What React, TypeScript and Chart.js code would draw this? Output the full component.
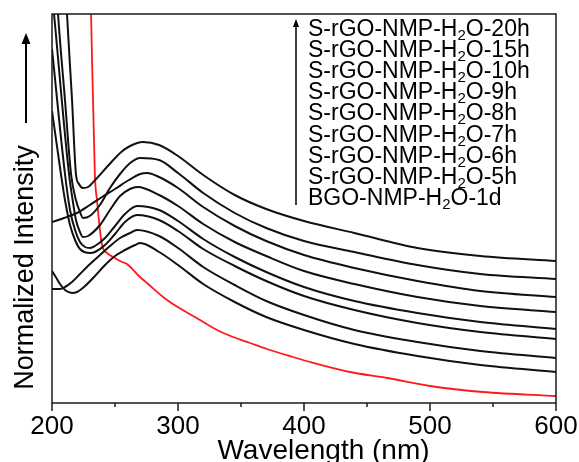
import { useEffect, useRef } from 'react';
import { Chart, registerables } from 'chart.js';

Chart.register(...registerables);

// Wavelength (nm) vs normalized intensity (a.u.) readings, [wavelength, intensity]
const s20h: [number, number][] = [
  [210.7, 423], [211.9, 389], [215.9, 303], [219.0, 229], [221.4, 219], [224.6, 215], [228.6, 216],
  [235, 224], [245, 238], [255, 251], [262, 257], [272, 261], [285, 258], [300, 247], [320, 228],
  [345, 208], [370, 194], [400, 182], [440, 170], [490, 155], [540, 147], [600, 142],
];
const s15h: [number, number][] = [
  [203.5, 418], [204.8, 389], [210.3, 303], [215.1, 229], [219, 203], [222.2, 191], [224.6, 185],
  [230, 187], [238, 198], [246, 215], [254, 229], [262, 240], [270, 245], [285, 243], [300, 230],
  [320, 210], [345, 190], [370, 175], [400, 162], [440, 151], [490, 138], [540, 129], [600, 124],
];
const s10h: [number, number][] = [
  [200, 181], [209.5, 185], [219.8, 190], [230, 198], [239.7, 206], [250, 214], [261, 223],
  [270, 229], [275.4, 230], [285, 226], [300, 215], [320, 196], [345, 177], [370, 162], [400, 148],
  [440, 135], [490, 122], [540, 112], [600, 106],
];
const s9h: [number, number][] = [
  [200, 410], [201.6, 389], [213.5, 229], [217, 198], [219, 183], [222.2, 171], [224.6, 166],
  [228.6, 167], [238.1, 178], [246, 193], [254, 207], [261.9, 214], [268, 216], [285, 208],
  [300, 197], [320, 179], [345, 161], [370, 147], [400, 132], [440, 119], [490, 106], [540, 97], [600, 91],
];
const s8h: [number, number][] = [
  [200, 354], [210.3, 229], [214.3, 193], [218.3, 173], [222.2, 161], [226.2, 156], [230.2, 155],
  [234.1, 157], [242.1, 165], [250, 177], [257.9, 189], [267.5, 197], [285, 193], [300, 182],
  [320, 164], [345, 146], [370, 131], [400, 116], [440, 102], [490, 90], [540, 81], [600, 74],
];
const s7h: [number, number][] = [
  [200, 292], [207.1, 229], [210.3, 203], [214.3, 178], [218.3, 163], [222.2, 154], [230.2, 150],
  [234.1, 151], [242.1, 158], [250, 169], [257.9, 181], [267.5, 188], [285, 183], [300, 172],
  [320, 154], [345, 137], [370, 122], [400, 107], [440, 93], [490, 80], [540, 71], [600, 64],
];
const s6h: [number, number][] = [
  [200, 114], [206.3, 114], [210.3, 116], [215.9, 121], [222.2, 129], [230.2, 139], [238.1, 148],
  [246, 157], [254, 165], [261.9, 170], [267.5, 173], [285, 167], [300, 155], [320, 136],
  [345, 118], [370, 102], [400, 88], [440, 73], [490, 61], [540, 52], [600, 45],
];
const s5h: [number, number][] = [
  [200, 132], [203, 126], [206.3, 119], [210.3, 113], [215.9, 110], [219.8, 111], [226.2, 117],
  [234.1, 127], [242.1, 138], [250, 147], [257.9, 153], [265.9, 158], [270, 160], [285, 151],
  [300, 138], [320, 119], [345, 101], [370, 86], [400, 73], [440, 59], [490, 47], [540, 38], [600, 31],
];
const bgo1d: [number, number][] = [
  [230.3, 430], [231, 389], [234, 229], [235.7, 203], [239.7, 158], [243.7, 150], [248.4, 146],
  [255.6, 141], [259.5, 139], [269.8, 126], [275.4, 120], [291.3, 103], [317.5, 83], [331, 73],
  [343.7, 66], [357.1, 60], [370.6, 54], [391.3, 46], [404.8, 41], [436.5, 31], [465.9, 25],
  [500, 17], [542, 11], [600, 7],
];

const seriesData = [s20h, s15h, s10h, s9h, s8h, s7h, s6h, s5h, bgo1d];
const legendLabels = [
  'S-rGO-NMP-H2O-20h', 'S-rGO-NMP-H2O-15h', 'S-rGO-NMP-H2O-10h', 'S-rGO-NMP-H2O-9h',
  'S-rGO-NMP-H2O-8h', 'S-rGO-NMP-H2O-7h', 'S-rGO-NMP-H2O-6h', 'S-rGO-NMP-H2O-5h', 'BGO-NMP-H2O-1d',
];
const seriesColors = ['#111', '#111', '#111', '#111', '#111', '#111', '#111', '#111', '#ff1a1a'];
const xMin = 200;
const xMax = 600;
const xMajorStep = 100;
const xMinorStep = 50;
const yMax = 389;
const xTitle = 'Wavelength (nm)';
const yTitle = 'Normalized Intensity';

const FONT = 'Liberation Sans, Arial, sans-serif';

const decorPlugin = {
  id: 'decor',
  afterDraw(chart: any) {
    const { ctx, chartArea } = chart;
    const { left, right, top, bottom } = chartArea;
    const xs = chart.scales.x;
    ctx.save();
    // frame
    ctx.strokeStyle = '#1a1a1a';
    ctx.lineWidth = 1.5;
    ctx.strokeRect(left, top, right - left, bottom - top);
    // ticks
    for (let v = xMin; v <= xMax; v += xMinorStep) {
      const px = xs.getPixelForValue(v);
      const len = v % xMajorStep === 0 ? 8 : 4;
      ctx.beginPath();
      ctx.moveTo(px, bottom);
      ctx.lineTo(px, bottom + len);
      ctx.stroke();
    }
    ctx.fillStyle = '#000';
    // x title
    ctx.font = `28px ${FONT}`;
    ctx.textAlign = 'center';
    ctx.textBaseline = 'alphabetic';
    ctx.fillText(xTitle, 323.5, 459);
    // y title
    ctx.save();
    ctx.translate(33, 267.5);
    ctx.rotate(-Math.PI / 2);
    ctx.font = `27px ${FONT}`;
    ctx.fillText(yTitle, 0, 0);
    ctx.restore();
    // y arrow
    ctx.strokeStyle = '#000';
    ctx.lineWidth = 2;
    ctx.beginPath();
    ctx.moveTo(26, 123);
    ctx.lineTo(26, 42);
    ctx.stroke();
    ctx.beginPath();
    ctx.moveTo(26, 33);
    ctx.lineTo(21.5, 44);
    ctx.lineTo(30.5, 44);
    ctx.closePath();
    ctx.fill();
    // legend arrow
    ctx.lineWidth = 1.5;
    ctx.beginPath();
    ctx.moveTo(296, 205);
    ctx.lineTo(296, 26);
    ctx.stroke();
    ctx.beginPath();
    ctx.moveTo(296, 19);
    ctx.lineTo(293, 27);
    ctx.lineTo(299, 27);
    ctx.closePath();
    ctx.fill();
    // legend text
    ctx.textAlign = 'left';
    legendLabels.forEach((label, i) => {
      const y = 36 + i * 21.1;
      const [pre, post] = label.split('H2O');
      let x = 308;
      ctx.font = `23px ${FONT}`;
      const a = pre + 'H';
      ctx.fillText(a, x, y);
      x += ctx.measureText(a).width;
      ctx.font = `15px ${FONT}`;
      ctx.fillText('2', x, y + 4);
      x += ctx.measureText('2').width;
      ctx.font = `23px ${FONT}`;
      ctx.fillText('O' + post, x, y);
    });
    ctx.restore();
  },
};

export default function App() {
  const ref = useRef<HTMLCanvasElement>(null);
  useEffect(() => {
    if (!ref.current) return;
    const chart = new Chart(ref.current, {
      type: 'line',
      data: {
        datasets: seriesData.map((s, i) => ({
          label: legendLabels[i],
          data: s.map(([x, y]) => ({ x, y })),
          borderColor: seriesColors[i],
          borderWidth: i === 8 ? 1.8 : 2,
          pointRadius: 0,
          fill: false,
          cubicInterpolationMode: 'monotone' as const,
        })),
      },
      options: {
        animation: false,
        responsive: true,
        maintainAspectRatio: false,
        layout: { padding: { left: 0, right: 23, top: 14, bottom: 0 } },
        elements: { line: { capBezierPoints: false } },
        plugins: { legend: { display: false }, tooltip: { enabled: false } },
        scales: {
          x: {
            type: 'linear',
            min: xMin,
            max: xMax,
            grid: { display: false, drawTicks: true, tickLength: 8 },
            border: { display: false },
            ticks: {
              stepSize: xMajorStep,
              color: '#000',
              padding: 0,
              font: { size: 26, family: FONT },
              maxRotation: 0,
            },
            afterFit: (scale: any) => { scale.height = 59; },
          },
          y: {
            type: 'linear',
            min: 0,
            max: yMax,
            grid: { display: false, drawTicks: false },
            border: { display: false },
            ticks: { display: false },
            afterFit: (scale: any) => { scale.width = 52; },
          },
        },
      },
      plugins: [decorPlugin],
    });
    return () => chart.destroy();
  }, []);
  return (
    <div style={{ position: 'fixed', left: 0, top: 0, width: 579, height: 462, background: '#fff' }}>
      <canvas ref={ref} />
    </div>
  );
}
